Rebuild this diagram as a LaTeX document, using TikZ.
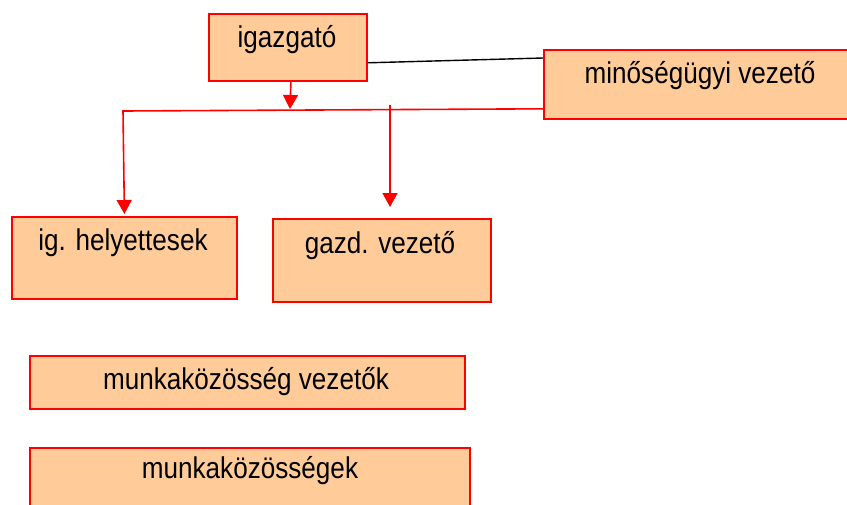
\documentclass[tikz,border=0pt]{standalone}
\usepackage{fontspec}
\setmainfont{Liberation Sans}[FakeStretch=0.87]
\usetikzlibrary{arrows.meta}
\definecolor{peach}{HTML}{FFCC99}
\tikzset{
  box/.style={draw=red, fill=peach, line width=1.8pt, anchor=north west, inner sep=0pt},
  lbl/.style={anchor=base, inner sep=0pt, font=\fontsize{30}{34}\selectfont},
  redline/.style={draw=red, line width=1.6pt},
  redarrow/.style={redline, -{Triangle[width=15pt,length=14pt]}},
}
\begin{document}
\begin{tikzpicture}[x=1pt, y=-1pt]
\clip (0,0) rectangle (847,504);
\useasboundingbox (0,0) rectangle (847,504);
% boxes
\node[box, minimum width=158pt, minimum height=67pt] (igazgato) at (208,13) {};
\node[box, minimum width=312pt, minimum height=69pt] (minoseg) at (543,49) {};
\node[box, minimum width=225pt, minimum height=82pt] (helyettes) at (11,216) {};
\node[box, minimum width=218pt, minimum height=83pt] (gazd) at (272,218) {};
\node[box, minimum width=435pt, minimum height=53pt] (mkvez) at (29,355) {};
\node[box, minimum width=440pt, minimum height=70pt] (mk) at (29,447) {};
% labels
\node[lbl] (t1) at (287,47) {igazgató};
\node[lbl] (t2) at (700,83) {minőségügyi vezető};
\node[lbl] (t3) at (123,250) {ig. helyettesek};
\node[lbl] (t4) at (380,253) {gazd. vezető};
\node[lbl] (t5) at (246,389) {munkaközösség vezetők};
\node[lbl] (t6) at (250,478) {munkaközösségek};
% connectors
\draw[black, line width=1.4pt] ([yshift=19pt]igazgato.south east) -- ([yshift=-9pt]minoseg.north west);
\coordinate (corner) at (123,111);
\coordinate (junction) at (290,109);
\coordinate (gtop) at (390,105);
\coordinate (gend) at (390,207);
\draw[redarrow] ([yshift=11pt]minoseg.south west) -- (corner) -- ([yshift=2pt]helyettes.north);
\draw[redarrow] ([xshift=3pt]igazgato.south) -- (junction);
\draw[redarrow] (gtop) -- (gend);
\end{tikzpicture}
\end{document}
